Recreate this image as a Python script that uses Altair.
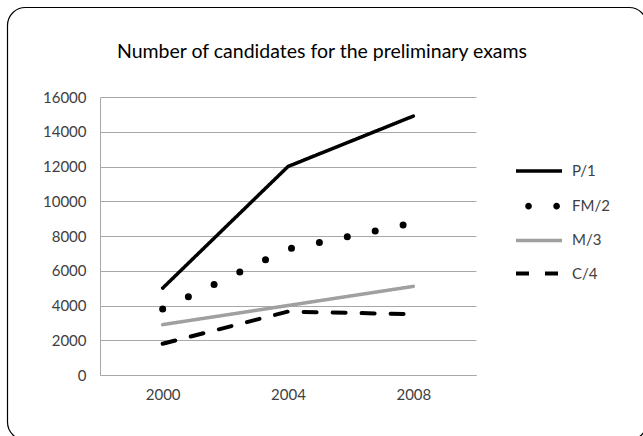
import altair as alt
import pandas as pd

years = ["2000", "2004", "2008"]
series = ["P/1", "FM/2", "M/3", "C/4"]
p1 = [5000, 12000, 14900]
fm2 = [3800, 7250, 8750]
m3 = [2900, 4000, 5100]
c4 = [1800, 3650, 3500]

colors = ["#000000", "#000000", "#a0a0a0", "#000000"]
dashes = [[1, 0], [0, 28.5], [1, 0], [13, 16]]
widths = [3.5, 7, 3.5, 4]

rows = []
for name, vals, w in zip(series, [p1, fm2, m3, c4], widths):
    for y, v in zip(years, vals):
        rows.append({"year": y, "series": name, "value": v, "sw": w})
df = pd.DataFrame(rows)

FONT = "Lato"
TXT = "#404040"
GRID = "#a8a8a8"

# legend symbol: a line for most series, two filled dots for FM/2
LINE_PATH = "M-2,0L2,0"
DOTS_PATH = ("M-1.2,0A0.29,0.29 0 1,0 -0.62,0A0.29,0.29 0 1,0 -1.2,0Z "
             "M1.24,0A0.29,0.29 0 1,0 1.82,0A0.29,0.29 0 1,0 1.24,0Z")
sym_expr = f"datum.value == 'FM/2' ? '{DOTS_PATH}' : '{LINE_PATH}'"
sw_expr = "datum.value == 'C/4' ? 4 : 3.5"

lines = alt.Chart(df).mark_line(strokeCap="round", strokeJoin="miter").encode(
    x=alt.X("year:O", scale=alt.Scale(type="point", padding=0.5),
            axis=alt.Axis(title=None, labelAngle=0, ticks=False, labelPadding=12,
                          domainColor=GRID, labelColor=TXT, labelFontSize=15,
                          labelFont=FONT, grid=False)),
    y=alt.Y("value:Q", scale=alt.Scale(domain=[0, 16000], nice=False),
            axis=alt.Axis(title=None, values=list(range(0, 16001, 2000)), ticks=False,
                          format="d", labelPadding=14, domainColor=GRID, gridColor=GRID,
                          labelColor=TXT, labelFontSize=15, labelFont=FONT)),
    color=alt.Color("series:N", sort=series,
                    scale=alt.Scale(domain=series, range=colors),
                    legend=alt.Legend(title=None, orient="none", legendX=431.5, legendY=66.5,
                                      symbolType=alt.ExprRef(sym_expr), symbolSize=529,
                                      symbolStrokeWidth=alt.ExprRef(sw_expr),
                                      symbolFillColor="#000000",
                                      labelOffset=25.5, rowPadding=16.2, padding=0,
                                      labelFontSize=15, labelColor=TXT, labelFont=FONT)),
    strokeDash=alt.StrokeDash("series:N", sort=series,
                              scale=alt.Scale(domain=series, range=dashes)),
    strokeWidth=alt.StrokeWidth("sw:Q", scale=None, legend=None),
    detail="series:N",
)

frame = alt.Chart(pd.DataFrame({"a": [0]})).mark_rect(
    filled=False, stroke="#000000", strokeWidth=1.2, cornerRadius=18
).encode(
    x=alt.value(-92.5), x2=alt.value(547), y=alt.value(-89.5), y2=alt.value(343)
)

chart = alt.layer(frame, lines).properties(
    width=376, height=278,
    padding={"left": 100, "top": 97, "right": 167, "bottom": 61},
    autosize=alt.AutoSizeParams(type="none"),
    title=alt.TitleParams("Number of candidates for the preliminary exams",
                          fontSize=19.5, font=FONT, fontWeight="normal", color="#000000",
                          anchor="middle", frame="group", dx=34, offset=0, dy=71,
                          baseline="alphabetic"),
).configure_view(stroke=None)

chart.save("out.html", embed_options={"renderer": "svg", "actions": False})
